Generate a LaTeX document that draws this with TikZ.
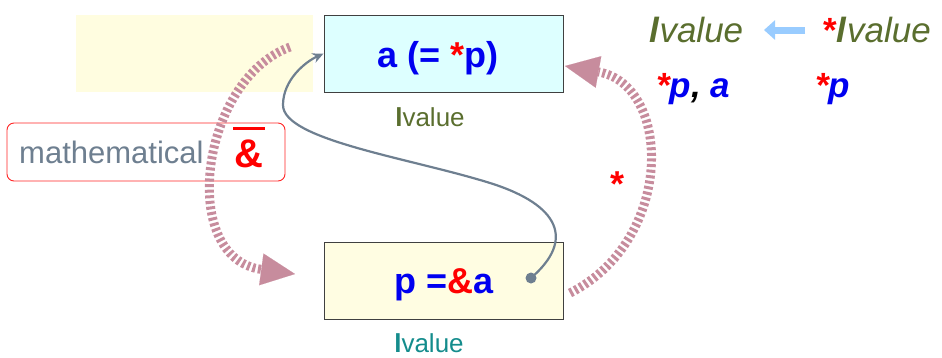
\documentclass[tikz,border=0pt]{standalone}
\usepackage{fontspec}
\setmainfont{Liberation Sans}
\usetikzlibrary{arrows.meta}
\definecolor{bgyellow}{HTML}{FFFDE0}
\definecolor{boxcyan}{HTML}{DDFFFF}
\definecolor{boxyellow}{HTML}{FFFDE2}
\definecolor{myblue}{HTML}{0000F0}
\definecolor{myred}{HTML}{FF0000}
\definecolor{olive}{HTML}{5A6E2E}
\definecolor{tealc}{HTML}{148C8C}
\definecolor{slate}{HTML}{6E7F90}
\definecolor{arcpink}{HTML}{C78C9D}
\definecolor{conngray}{HTML}{6E7F90}
\definecolor{lightblue}{HTML}{99CCFF}
\tikzset{
  valbox/.style={draw=black!75, line width=0.9pt, minimum width=239pt, minimum height=77pt, inner sep=0pt},
  boxtext/.style={anchor=base, font=\bfseries\fontsize{36}{40}\selectfont, text=myblue, inner sep=0pt},
  lvlabel/.style={anchor=base, font=\fontsize{26}{30}\selectfont, inner sep=0pt},
  dasharc/.style={draw=arcpink, line width=9pt, dash pattern=on 3pt off 2.6pt,
     -{Triangle[length=34pt,width=32pt,line width=0.1pt]}},
  conn/.style={draw=conngray, line width=2.2pt, -{Stealth[length=11pt,width=10pt]}},
  toptext/.style={anchor=base west, inner sep=0pt, font=\fontsize{35}{40}\selectfont}
}
\begin{document}
\begin{tikzpicture}[x=1pt,y=-1pt]
\useasboundingbox (0,0) rectangle (942,357);
% background yellow panel
\fill[bgyellow] (76,15) rectangle (313,92);
% boxes
\node[valbox, fill=boxcyan] (A) at (443.5,53.5) {};
\node[valbox, fill=boxyellow] (B) at (444,280.5) {};
\node[draw=myred!85, fill=white, line width=0.9pt, rounded corners=7pt,
      minimum width=278pt, minimum height=58pt, inner sep=0pt] (M) at (146,152) {};
% box texts
\node[boxtext] (At) at (438,67) {a (= \textcolor{myred}{*}p)};
\node[boxtext] (Bt) at (444,293) {p =\textcolor{myred}{\&}a};
\node[lvlabel, text=olive] (Al) at (430,126) {\textbf{l}value};
\node[lvlabel, text=tealc] (Bl) at (429,352) {\textbf{l}value};
% mathematical label
\node[anchor=base west, inner sep=0pt, text=slate, font=\fontsize{31}{34}\selectfont] (Mt) at (19,163) {mathematical};
\node[anchor=base, inner sep=0pt, text=myred, font=\bfseries\fontsize{40}{44}\selectfont] (amp) at (249,167) {\&};
\draw[myred, line width=3pt] (233,128) -- (265,128);
% dashed arcs
\coordinate (l1) at (290,47);
\coordinate (l2) at (295,274);
\draw[dasharc] (l1) .. controls (200,80) and (178,258) .. (l2);
\coordinate (r1) at (570,293);
\coordinate (r2) at (565,66);
\draw[dasharc] (r1) .. controls (675,240) and (672,85) .. (r2);
\node[anchor=base, inner sep=0pt, text=myred, font=\bfseries\fontsize{36}{40}\selectfont] (star) at (617,196) {*};
% grey connector
\coordinate (D) at (531,278);
\fill[conngray] (D) circle (5.5pt);
\draw[conn] (D) .. controls (575,240) and (560,205) .. (490,183)
   .. controls (410,158) and (283,140) .. (283,105)
   .. controls (283,80) and (305,62) .. (A.west);
% top right legend
\node[toptext, text=olive] (L1) at (649,42) {\textbf{\itshape l}\itshape value};
\node[toptext, text=olive] (L2) at (823,42) {\textcolor{myred}{\bfseries *}\textbf{\itshape l}\itshape value};
\coordinate (ba1) at (805,30);
\coordinate (ba2) at (764,30);
\draw[lightblue, line width=7pt, -{Triangle[length=11pt,width=19pt]}] (ba1) -- (ba2);
\node[toptext, text=myblue, font=\bfseries\itshape\fontsize{35}{40}\selectfont] (P1) at (656,97) {\textcolor{myred}{*}p\textcolor{black}{,} a};
\node[toptext, text=myblue, font=\bfseries\itshape\fontsize{35}{40}\selectfont] (P2) at (815,97) {\textcolor{myred}{*}p};
\end{tikzpicture}
\end{document}
